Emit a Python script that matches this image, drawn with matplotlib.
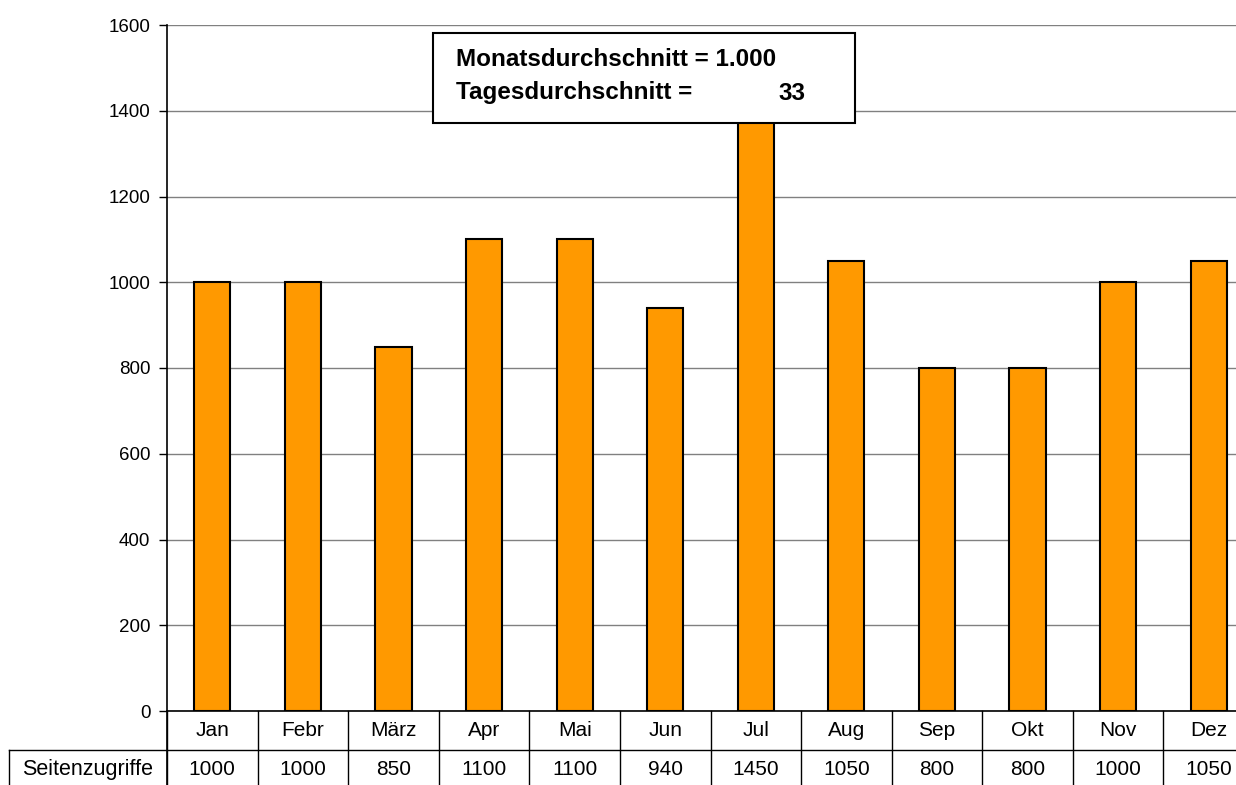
import matplotlib
matplotlib.use("Agg")
from matplotlib import pyplot as plt
from matplotlib.patches import Rectangle
import matplotlib.transforms as mtransforms

# Daten
monate = ["Jan", "Febr", "März", "Apr", "Mai", "Jun", "Jul", "Aug", "Sep", "Okt", "Nov", "Dez"]
zugriffe = [1000, 1000, 850, 1100, 1100, 940, 1450, 1050, 800, 800, 1000, 1050]
zeilen_name = "Seitenzugriffe"
y_ticks = [0, 200, 400, 600, 800, 1000, 1200, 1400, 1600]
box_zeile1 = "Monatsdurchschnitt = 1.000"
box_zeile2 = "Tagesdurchschnitt ="
box_wert2 = "33"

plt.rcParams["font.family"] = ["Liberation Sans", "DejaVu Sans"]

W, H = 1236, 785
fig = plt.figure(figsize=(W / 100, H / 100), dpi=100)
# Achsen in Pixeln (links 167, rechts ~1254, oben 25, unten 711)
ax = fig.add_axes([167 / W, (H - 711) / H, 1087 / W, 686 / H])

xs = [i for i, _ in enumerate(monate)]
ax.bar(xs, zugriffe, width=0.4, color="#FF9900", edgecolor="black", linewidth=1.5, zorder=3)

ax.set_xlim(-0.5, len(monate) - 0.5)
ax.set_ylim(0, 1600)
ax.set_yticks(y_ticks)
ax.set_yticklabels([str(t) for t in y_ticks], fontsize=13.5)
ax.tick_params(axis="y", direction="out", length=6, width=1, pad=6)
ax.set_xticks([])
ax.grid(axis="y", color="#808080", linewidth=1, zorder=0)
for s in ["top", "right"]:
    ax.spines[s].set_visible(False)
ax.spines["left"].set_linewidth(1.2)
ax.spines["bottom"].set_linewidth(1.2)

# Datentabelle unter dem Diagramm
trans = mtransforms.blended_transform_factory(ax.transData, ax.transAxes)
zeile_h = 39 / 686
y1 = -zeile_h          # Linie zwischen Monats- und Wertezeile
y2 = -2.2 * zeile_h    # unterer Rand (ausserhalb des Bildes)
links = -(167 - 9) / 1087

for i, m in enumerate(monate):
    ax.text(i, -zeile_h / 2, m, transform=trans, ha="center", va="center", fontsize=15)
    ax.text(i, y1 - zeile_h / 2, str(zugriffe[i]), transform=trans, ha="center", va="center", fontsize=15)
for k in range(len(monate) + 1):
    ax.plot([k - 0.5, k - 0.5], [0, y2], transform=trans, color="black", lw=1, clip_on=False)
ax.plot([links, 1.05], [y1, y1], transform=ax.transAxes, color="black", lw=1, clip_on=False)
ax.plot([links, links], [y1, y2], transform=ax.transAxes, color="black", lw=1, clip_on=False)
ax.plot([0, 0], [0, y2], transform=ax.transAxes, color="black", lw=1.2, clip_on=False)
ax.text((links + 0) / 2, y1 - zeile_h / 2, zeilen_name, transform=ax.transAxes,
        ha="center", va="center", fontsize=15.5)

# Textfeld
bx, by = (433 - 167) / 1087, (711 - 123) / 686
bw, bh = 422 / 1087, 90 / 686
ax.add_patch(Rectangle((bx, by), bw, bh, transform=ax.transAxes, facecolor="white",
                       edgecolor="black", linewidth=1.5, zorder=5, clip_on=False))
tx = (456 - 167) / 1087
ax.text(tx, (711 - 60) / 686, box_zeile1, transform=ax.transAxes, ha="left", va="center",
        fontsize=17.5, fontweight="bold", zorder=6)
ax.text(tx, (711 - 93) / 686, box_zeile2, transform=ax.transAxes, ha="left", va="center",
        fontsize=17.5, fontweight="bold", zorder=6)
ax.text((805 - 167) / 1087, (711 - 93) / 686, box_wert2, transform=ax.transAxes, ha="right",
        va="center", fontsize=17.5, fontweight="bold", zorder=6)

fig.savefig("out.png", dpi=100)
